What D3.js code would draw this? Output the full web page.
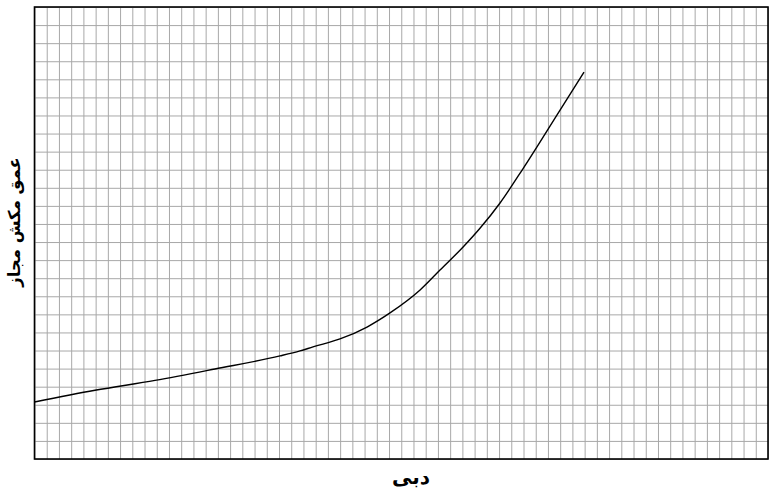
<!DOCTYPE html>
<html>
<head>
<meta charset="utf-8">
<script src="https://cdn.jsdelivr.net/npm/d3@7"></script>
<style>
  html, body { margin: 0; padding: 0; background: #fff; }
  svg { display: block; }
</style>
</head>
<body>
<div id="chart"></div>
<script>
// grid units: 60 columns, 25 rows (no tick labels on the original)
const xTicks = d3.range(0, 61);
const yTicks = d3.range(0, 26);

// curve, in grid units
const flowX = [0, 4.95, 9.86, 14.76, 20.08, 21.72, 22.78, 24.99, 27.2, 29.08, 31.54, 33.17, 35.08, 36.44, 38.08, 39.98, 42.99, 44.95];
const headY = [3.15, 3.8, 4.35, 4.98, 5.7, 5.98, 6.2, 6.64, 7.3, 8.08, 9.35, 10.45, 11.74, 12.76, 14.16, 16.08, 19.3, 21.4];

const xLabel = "دبی";
const yLabel = "عمق مکش مجاز";

const W = 779, H = 496;
const margin = { top: 7, right: 11, bottom: 37, left: 34.5 };
const width = W - margin.left - margin.right;
const height = H - margin.top - margin.bottom;

const svg = d3.select("#chart")
    .append("svg")
    .attr("width", W)
    .attr("height", H);

const g = svg.append("g")
    .attr("transform", `translate(${margin.left},${margin.top})`);

const x = d3.scaleLinear().domain([0, 60]).range([0, width]);
const y = d3.scaleLinear().domain([0, 25]).range([height, 0]);

// vertical grid
g.append("g")
    .attr("transform", `translate(0,${height})`)
    .call(d3.axisBottom(x).tickValues(xTicks).tickSize(-height).tickFormat(""))
    .call(a => a.select(".domain").remove())
    .call(a => a.selectAll("line").attr("stroke", "#a8a8a8").attr("stroke-width", 1));

// horizontal grid
g.append("g")
    .call(d3.axisLeft(y).tickValues(yTicks).tickSize(-width).tickFormat(""))
    .call(a => a.select(".domain").remove())
    .call(a => a.selectAll("line").attr("stroke", "#a8a8a8").attr("stroke-width", 1));

// frame
g.append("rect")
    .attr("x", 0)
    .attr("y", 0)
    .attr("width", width)
    .attr("height", height)
    .attr("fill", "none")
    .attr("stroke", "#000")
    .attr("stroke-width", 1.6);

const pts = flowX.map((v, i) => ({ q: v, h: headY[i] }));

const line = d3.line()
    .x(d => x(d.q))
    .y(d => y(d.h))
    .curve(d3.curveMonotoneX);

g.append("path")
    .datum(pts)
    .attr("fill", "none")
    .attr("stroke", "#000")
    .attr("stroke-width", 1.4)
    .attr("d", line);

// axis titles
svg.append("text")
    .attr("x", 411)
    .attr("y", 484)
    .attr("text-anchor", "middle")
    .attr("font-family", "DejaVu Sans")
    .attr("font-weight", "bold")
    .attr("font-size", 20)
    .attr("direction", "rtl")
    .text(xLabel);

svg.append("text")
    .attr("transform", "translate(20,222) rotate(-90)")
    .attr("text-anchor", "middle")
    .attr("font-family", "DejaVu Sans")
    .attr("font-weight", "bold")
    .attr("font-size", 16.5)
    .attr("direction", "rtl")
    .text(yLabel);
</script>
</body>
</html>
